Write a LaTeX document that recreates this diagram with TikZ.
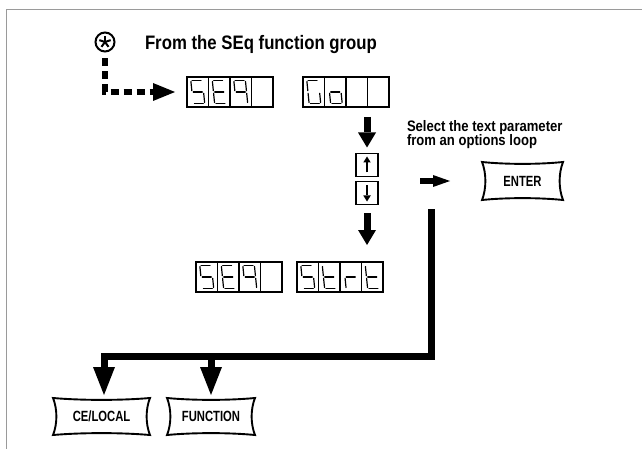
\documentclass[tikz,border=0pt]{standalone}
\usepackage{fontspec}
\setmainfont{Liberation Sans}
\newfontfamily\condbold[FakeStretch=0.86]{Liberation Sans Bold}
\newfontfamily\btnfam[FakeStretch=0.76]{Liberation Sans Bold}
\usetikzlibrary{arrows.meta,calc}
\definecolor{framegray}{HTML}{9A9A9A}
\newcommand\ttlf{\condbold\fontsize{19.5}{22}\selectfont}
\newcommand\self{\condbold\fontsize{15.2}{17}\selectfont}
\newcommand\btnf{\btnfam\fontsize{14.8}{16}\selectfont}
% seven segment pieces (local coords, y up)
\def\segW{5.8}\def\segH{11.8}\def\segg{1.3}
\def\segA{\draw[segline] (-\segW+\segg,\segH) -- (\segW-\segg,\segH);}
\def\segB{\draw[segline] (\segW,\segH-\segg) -- (\segW,\segg);}
\def\segC{\draw[segline] (\segW,-\segg) -- (\segW,-\segH+\segg);}
\def\segD{\draw[segline] (-\segW+\segg,-\segH) -- (\segW-\segg,-\segH);}
\def\segE{\draw[segline] (-\segW,-\segg) -- (-\segW,-\segH+\segg);}
\def\segF{\draw[segline] (-\segW,\segH-\segg) -- (-\segW,\segg);}
\def\segG{\draw[segline] (-\segW+\segg,0) -- (\segW-\segg,0);}
\newcommand\sevseg[3]{%
  \begin{scope}[shift={(#1,#2)}, yscale=-1, xslant=0.1]
    \foreach \s in {#3} {\csname seg\s\endcsname}
  \end{scope}}
\newcommand\dispbox[7]{%
  \node[disp] (#1) at (#2,#3) {};
  \foreach \k in {1,2,3}
    \draw[celldiv] ($(#1.north west)+(\k*21.5,0)$) -- ($(#1.south west)+(\k*21.5,0)$);
  \sevseg{#2+10.75}{#3}{#4}%
  \sevseg{#2+32.25}{#3}{#5}%
  \sevseg{#2+53.75}{#3}{#6}%
  \sevseg{#2+75.25}{#3}{#7}}
\newcommand\pillow[1]{%
  \draw[pillowline] (#1.north west)
    .. controls ($(#1.north west)!0.3!(#1.north east)+(0,2.5)$) and ($(#1.north west)!0.7!(#1.north east)+(0,2.5)$) .. (#1.north east)
    .. controls ($(#1.north east)!0.3!(#1.south east)+(-4.5,0)$) and ($(#1.north east)!0.7!(#1.south east)+(-4.5,0)$) .. (#1.south east)
    .. controls ($(#1.south east)!0.3!(#1.south west)+(0,-2.5)$) and ($(#1.south east)!0.7!(#1.south west)+(0,-2.5)$) .. (#1.south west)
    .. controls ($(#1.south west)!0.3!(#1.north west)+(4.5,0)$) and ($(#1.south west)!0.7!(#1.north west)+(4.5,0)$) .. (#1.north west) -- cycle;}
\begin{document}
\begin{tikzpicture}[x=1pt,y=-1pt,
  disp/.style={draw, line width=1.8pt, rectangle, minimum width=86pt, minimum height=30pt, inner sep=0pt, outer sep=0pt, anchor=west},
  celldiv/.style={line width=1.4pt},
  segline/.style={line width=1.2pt, line cap=round},
  keybox/.style={draw, line width=1.8pt, minimum width=22pt, minimum height=23pt, inner sep=0pt, outer sep=0pt},
  colarr/.style={line width=7pt, -{Triangle[length=15pt,width=18pt,line width=0pt]}},
  smallarr/.style={line width=2.6pt, -{Triangle[length=6pt,width=7.5pt,line width=0pt]}},
  rarr/.style={line width=6pt, -{Triangle[length=17pt,width=12pt,line width=0pt]}},
  bigline/.style={line width=7pt, line join=miter, -{Triangle[length=28pt,width=22pt,line width=0pt]}},
  dashln/.style={line width=6pt, dash pattern=on 8pt off 5pt, -{Triangle[length=22pt,width=18pt,line width=0pt]}},
  btn/.style={inner sep=0pt, outer sep=0pt, minimum height=37pt, font=\btnf},
  pillowline/.style={line width=1.9pt, line join=miter},
  lbl/.style={inner sep=0pt, outer sep=0pt, anchor=base west}
]
\useasboundingbox (0,0) rectangle (642,449);
% frame
\draw[framegray, line width=1.5pt] (6.5,449) -- (6.5,9.5) -- (642,9.5);
% star symbol and title
\node[circle, draw, line width=2pt, minimum size=19pt, inner sep=0pt] (star) at (105,42) {};
\foreach \a in {270,342,198,54,126}
  \draw[line width=2pt] (star.center) -- ++(\a:6);
\node[lbl, font=\ttlf] (title) at (145,50) {From the SEq function group};
% displays
\dispbox{seq1}{187}{92}{A,F,G,C,D}{A,F,G,E,D}{A,B,F,G,C}{}
\dispbox{go}{303}{92}{A,F,E,D,C}{G,C,D,E}{}{}
\dispbox{seqb}{196}{277}{A,F,G,C,D}{A,F,G,E,D}{A,B,F,G,C}{}
\dispbox{strt}{297}{277}{A,F,G,C,D}{F,E,G,D}{E,G}{F,E,G,D}
% dashed entry arrow
\draw[dashln, shorten <=6pt, shorten >=12pt] (star.south) |- (seq1.west);
% up/down keys
\node[keybox] (upb) at (367,165) {};
\node[keybox] (dnb) at (367,193) {};
\draw[smallarr, shorten <=4pt, shorten >=3pt] (upb.south) -- (upb.north);
\draw[smallarr, shorten <=4pt, shorten >=3pt] (dnb.north) -- (dnb.south);
\draw[colarr, shorten <=10pt, shorten >=6pt] (go.south -| upb.north) -- (upb.north);
\draw[colarr, shorten <=8.5pt, shorten >=17pt] (dnb.south) -- (dnb.south |- strt.north);
% select text and ENTER
\node[lbl, font=\self] (sel1) at (407,132) {Select the text parameter};
\node[lbl, font=\self] (sel2) at (407,146) {from an options loop};
\node[btn, minimum width=81pt, minimum height=38pt] (enter) at (522.5,181) {ENTER};
\pillow{enter}
\coordinate (rstart) at (420,181);
\draw[rarr, shorten >=32pt] (rstart) -- (enter.west);
% exit buttons
\node[btn, minimum width=97pt] (ce) at (101.5,416.5) {CE/LOCAL};
\node[btn, minimum width=88pt] (func) at (211,416.5) {FUNCTION};
\pillow{ce}
\pillow{func}
\coordinate (vtop) at (431.5,209);
\coordinate (hl) at (431.5,356);
\draw[bigline, shorten >=3pt] (vtop) -- (hl) -| ([xshift=2.5pt]ce.north);
\draw[bigline, shorten >=3pt] (hl -| func.north) -- (func.north);
\end{tikzpicture}
\end{document}
